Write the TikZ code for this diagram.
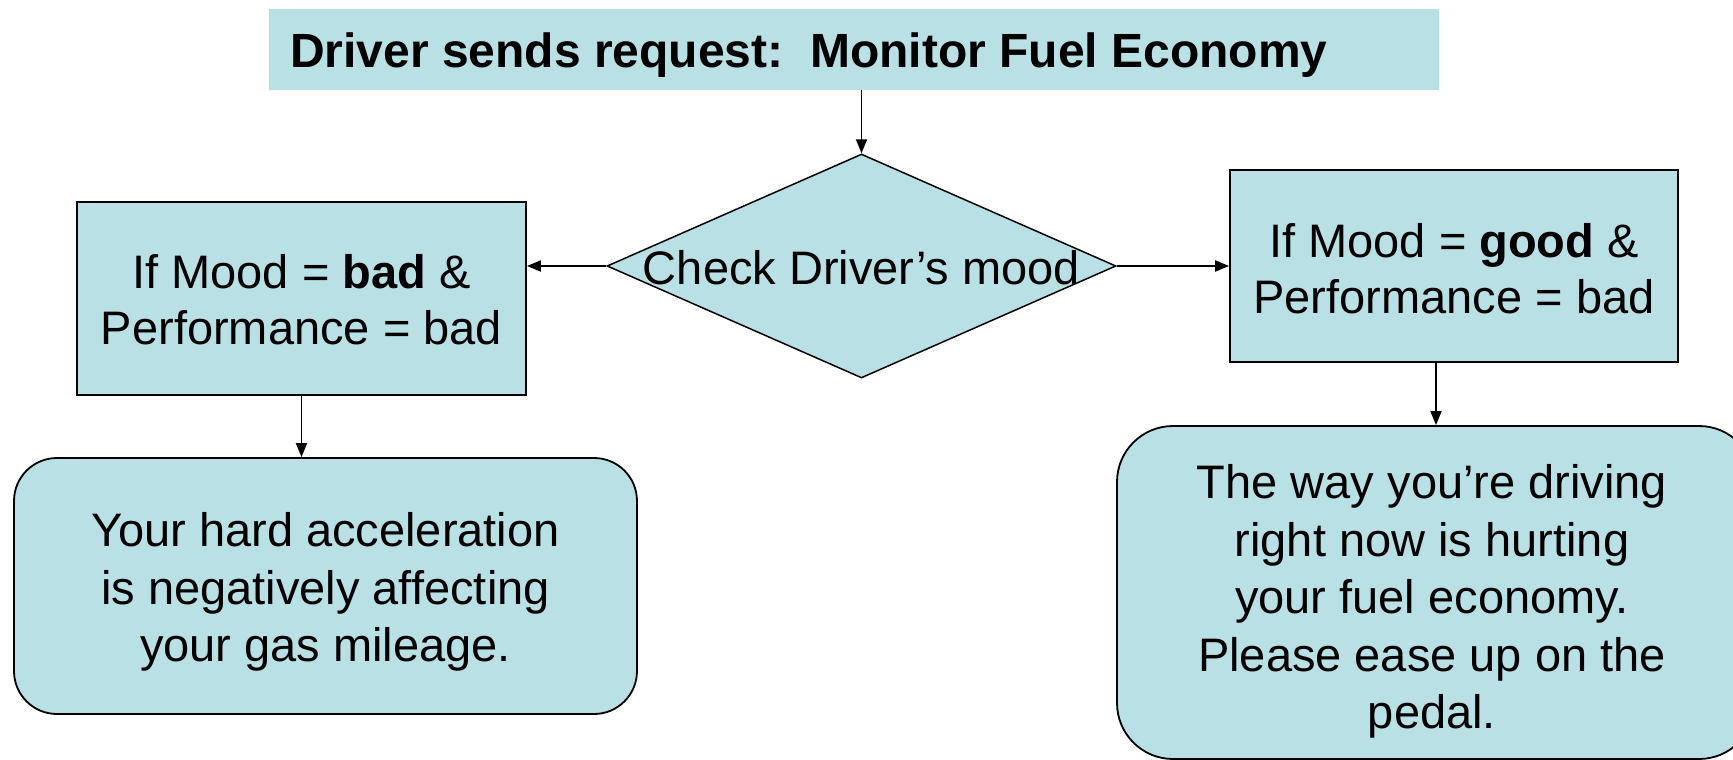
\documentclass[tikz,border=0pt]{standalone}
\usepackage{fontspec}
\setmainfont{Liberation Sans}
\usetikzlibrary{shapes.geometric,arrows.meta}
\definecolor{boxfill}{HTML}{B9E0E4}
\tikzset{
  every node/.style={font=\fontsize{47}{57.5}\selectfont},
  flowbox/.style={draw=black, line width=1.8pt, fill=boxfill, inner sep=0pt, align=center},
  roundbox/.style={flowbox, rounded corners=#1},
  decision/.style={diamond, draw=black, line width=1.5pt, fill=boxfill, inner sep=0pt},
  flow/.style={line width=1.9pt, -{Triangle[length=14pt,width=11pt]}}
}
\begin{document}
\begin{tikzpicture}[x=1pt,y=-1pt]
  \useasboundingbox (0,0) rectangle (1733,760);
  \begin{scope}
    \clip (0,0) rectangle (1733,760);

    % request banner
    \node[fill=boxfill, inner sep=0pt, minimum width=1170, minimum height=81]
          (req) at (854,49.5) {};
    \node[anchor=base west, inner sep=0pt, font=\bfseries\fontsize{48}{57.5}\selectfont]
          (reqtext) at (290,67) {Driver sends request:\ \ Monitor Fuel Economy};

    % decision
    \node[decision, minimum width=509, minimum height=224] (dec) at (861.5,266) {};
    \node[anchor=base, inner sep=0pt] (dectext) at (861.5,284) {Check Driver’s mood};

    % condition boxes
    \node[flowbox, minimum width=449, minimum height=193] (bad) at (301.5,298.5) {};
    \node[align=center, font=\fontsize{47}{56}\selectfont] (badtext)
          at ([yshift=-1pt]bad.center) {If Mood = \textbf{bad} \&\\Performance = bad};
    \node[flowbox, minimum width=448, minimum height=192] (good) at (1454,266) {};
    \node[align=center, font=\fontsize{47}{56}\selectfont] (goodtext)
          at ([yshift=-3pt]good.center) {If Mood = \textbf{good} \&\\Performance = bad};

    % messages to the driver
    \node[roundbox=43pt, minimum width=623, minimum height=256] (badmsg) at (325.5,586) {};
    \node[align=center] (badmsgtext) at ([yshift=-6pt]badmsg.center)
          {Your hard acceleration\\is negatively affecting\\your gas mileage.};
    \node[roundbox=56pt, minimum width=638, minimum height=333] (goodmsg) at (1436,592.5) {};
    \node[align=center] (goodmsgtext) at ([xshift=-4pt,yshift=-9pt]goodmsg.center)
          {The way you’re driving\\right now is hurting\\your fuel economy.\\Please ease up on the\\pedal.};

    % connectors
    \draw[flow] (req.south -| dec.north) -- (dec.north);
    \draw[flow] (dec.west) -- (bad.east |- dec.west);
    \draw[flow] (dec.east) -- (good.west |- dec.east);
    \draw[flow] (bad.south) -- (bad.south |- badmsg.north);
    \draw[flow] (goodmsg.north |- good.south) -- (goodmsg.north);
  \end{scope}
\end{tikzpicture}
\end{document}
